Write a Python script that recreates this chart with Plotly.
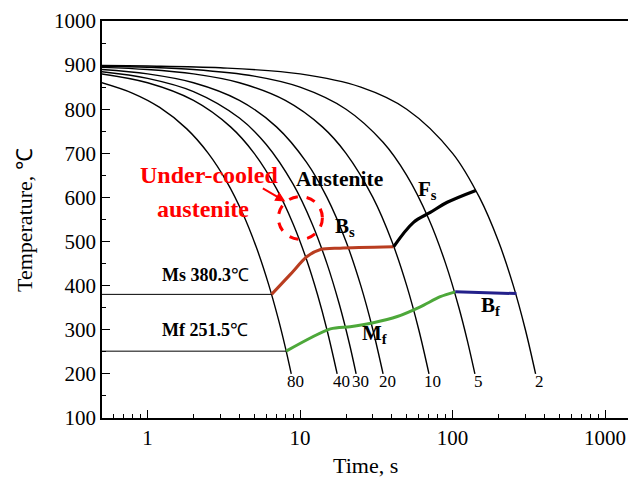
import math
import plotly.graph_objects as go

# ---------------- data ----------------
rate_labels = ["80", "40", "30", "20", "10", "5", "2"]

t80 = [0.5, 0.8, 1.2, 1.8, 2.5, 3.3, 4.2, 5.2, 6.2, 7.2, 8.0, 8.75]
T80 = [860, 836, 804, 756, 700, 636, 564, 484, 404, 324, 260, 200]
t40 = [0.5, 1, 2, 3.5, 5, 7, 9, 11, 13, 15, 17.5]
T40 = [880, 860, 820, 760, 700, 620, 540, 460, 380, 300, 200]
t30 = [0.5, 1, 2, 4, 6, 9, 12, 15, 18, 21, 23.3]
T30 = [885, 870, 840, 780, 720, 630, 540, 450, 360, 270, 200]
t20 = [0.5, 1, 2, 4, 7, 11, 15, 20, 25, 30, 35]
T20 = [890, 880, 860, 820, 760, 680, 600, 500, 400, 300, 200]
t10 = [0.5, 1, 2, 4, 8, 14, 20, 30, 40, 50, 60, 70]
T10 = [895, 890, 880, 860, 820, 760, 700, 600, 500, 400, 300, 200]
t5 = [0.5, 1, 2, 5, 10, 20, 35, 50, 70, 90, 110, 125, 140]
T5 = [897.5, 895, 890, 875, 850, 800, 725, 650, 550, 450, 350, 275, 200]
t2 = [0.5, 1, 3, 10, 25, 50, 100, 150, 200, 250, 300, 350]
T2 = [899, 898, 894, 880, 850, 800, 700, 600, 500, 400, 300, 200]

curves_t = [t80, t40, t30, t20, t10, t5, t2]
curves_T = [T80, T40, T30, T20, T10, T5, T2]

ms_t = [0.5, 6.5]
ms_T = [380.3, 380.3]
mf_t = [0.5, 8.1]
mf_T = [251.5, 251.5]

bs_t = [6.5, 8.6, 11.1, 13.6, 18.3, 41.0]
bs_T = [380.3, 425, 466, 482, 485, 488]
fs_t = [41.0, 55.2, 71.4, 92.2, 142]
fs_T = [488, 543, 566, 589, 616]
mfc_t = [8.1, 15.8, 21.3, 30.2, 43.4, 61.4, 83, 104]
mfc_T = [251.5, 302, 307, 316, 330, 352, 375, 386]
bf_t = [104, 262]
bf_T = [386, 382]

x_ticks = [1, 10, 100, 1000]
x_minor = [0.6, 0.7, 0.8, 0.9] + [k * m for m in (1, 10, 100) for k in range(2, 10)]

SERIF = "Liberation Serif"

fig = go.Figure()

for tt, TT in zip(curves_t, curves_T):
    fig.add_trace(go.Scatter(x=tt, y=TT, mode="lines",
                             line=dict(color="black", width=1.4, shape="spline"),
                             hoverinfo="skip", showlegend=False))

for tt, TT in ((ms_t, ms_T), (mf_t, mf_T)):
    fig.add_trace(go.Scatter(x=tt, y=TT, mode="lines",
                             line=dict(color="black", width=1.0),
                             showlegend=False))

fig.add_trace(go.Scatter(x=bs_t, y=bs_T, mode="lines",
                         line=dict(color="#b93d20", width=3, shape="spline", smoothing=0.8), showlegend=False))
fig.add_trace(go.Scatter(x=fs_t, y=fs_T, mode="lines",
                         line=dict(color="black", width=3.2, shape="spline"), showlegend=False))
fig.add_trace(go.Scatter(x=mfc_t, y=mfc_T, mode="lines",
                         line=dict(color="#4da83a", width=3, shape="spline", smoothing=0.8), showlegend=False))
fig.add_trace(go.Scatter(x=bf_t, y=bf_T, mode="lines",
                         line=dict(color="#23208a", width=3), showlegend=False))

def L(v):
    return math.log10(v)

ann = []
# rate labels at curve ends
for lab, tt, TT in zip(rate_labels, curves_t, curves_T):
    ann.append(dict(x=L(tt[-1]), y=TT[-1], text=lab, showarrow=False,
                    xshift=4, yshift=-8,
                    font=dict(family=SERIF, size=17, color="black")))

ann += [
    dict(x=L(2.39), y=425, text="<b>Ms 380.3</b>℃", showarrow=False,
         font=dict(family=SERIF, size=18, color="black")),
    dict(x=L(2.39), y=300, text="<b>Mf 251.5</b>℃", showarrow=False,
         font=dict(family=SERIF, size=18, color="black")),
    dict(x=L(2.54), y=652, text="<b>Under-cooled</b>", showarrow=False,
         font=dict(family=SERIF, size=24, color="red")),
    dict(x=L(2.32), y=573, text="<b>austenite</b>", showarrow=False,
         font=dict(family=SERIF, size=24, color="red")),
    dict(x=L(18.1), y=641, text="<b>Austenite</b>", showarrow=False,
         font=dict(family=SERIF, size=21.5, color="black")),
    dict(x=L(57.5), y=618, text="<b>F</b><sub><b>s</b></sub>", showarrow=False, xanchor="left",
         font=dict(family=SERIF, size=21, color="black")),
    dict(x=L(16.5), y=534, text="<b>B</b><sub><b>s</b></sub>", showarrow=False, xanchor="left",
         font=dict(family=SERIF, size=21, color="black")),
    dict(x=L(24.8), y=291, text="<b>M</b><sub><b>f</b></sub>", showarrow=False, xanchor="left",
         font=dict(family=SERIF, size=21, color="black")),
    dict(x=L(148), y=355, text="<b>B</b><sub><b>f</b></sub>", showarrow=False, xanchor="left",
         font=dict(family=SERIF, size=21, color="black")),
    dict(x=L(8.0), y=591, text="", showarrow=True, arrowhead=2, arrowsize=1,
         arrowwidth=2, arrowcolor="red", ax=-24, ay=-14),
    dict(xref="paper", yref="paper", x=(365 - 102) / 526, y=(418 - 465) / 397,
         xanchor="center", yanchor="middle",
         text="Time, s", showarrow=False, font=dict(family=SERIF, size=22, color="black")),
    dict(xref="paper", yref="paper", x=(25 - 102) / 526, y=(418 - 220) / 397,
         xanchor="center", yanchor="middle",
         text="Temperature, ℃", textangle=-90, showarrow=False,
         font=dict(family=SERIF, size=22, color="black")),
]

# dashed circle marking the under-cooled austenite region (shape coords in data values)
fig.add_shape(type="circle", xref="x", yref="y", x0=7.2, x1=14.0, y0=505, y1=602,
              line=dict(color="red", width=3, dash="dash"))

fig.update_layout(
    width=628, height=477,
    margin=dict(l=102, r=0, t=21, b=59),
    plot_bgcolor="white", paper_bgcolor="white",
    annotations=ann, showlegend=False,
    font=dict(family=SERIF, size=18, color="black"),
)
fig.update_xaxes(type="log", range=[-0.299, 3.15], showgrid=False, zeroline=False,
                 showline=True, linecolor="black", linewidth=1.5, mirror=True,
                 ticks="inside", ticklen=8, tickwidth=1.2, tickcolor="black",
                 tickmode="array", tickvals=x_ticks, ticktext=[str(v) for v in x_ticks],
                 tickfont=dict(family=SERIF, size=21, color="black"),
                 automargin=False,
                 minor=dict(tickmode="array", tickvals=x_minor, ticks="inside",
                            ticklen=4, tickwidth=1, tickcolor="black", showgrid=False))
fig.update_yaxes(range=[100, 1000], showgrid=False, zeroline=False,
                 showline=True, linecolor="black", linewidth=1.5, mirror=False,
                 ticks="inside", ticklen=8, tickwidth=1.2, tickcolor="black",
                 dtick=100, tick0=0, automargin=False,
                 tickfont=dict(family=SERIF, size=21, color="black"),
                 minor=dict(dtick=50, ticks="inside", ticklen=4, tickwidth=1,
                            tickcolor="black", showgrid=False))

fig.write_html("out.html", config={"displayModeBar": False},
               post_script="document.body.style.margin='0';document.body.style.overflow='hidden';")
